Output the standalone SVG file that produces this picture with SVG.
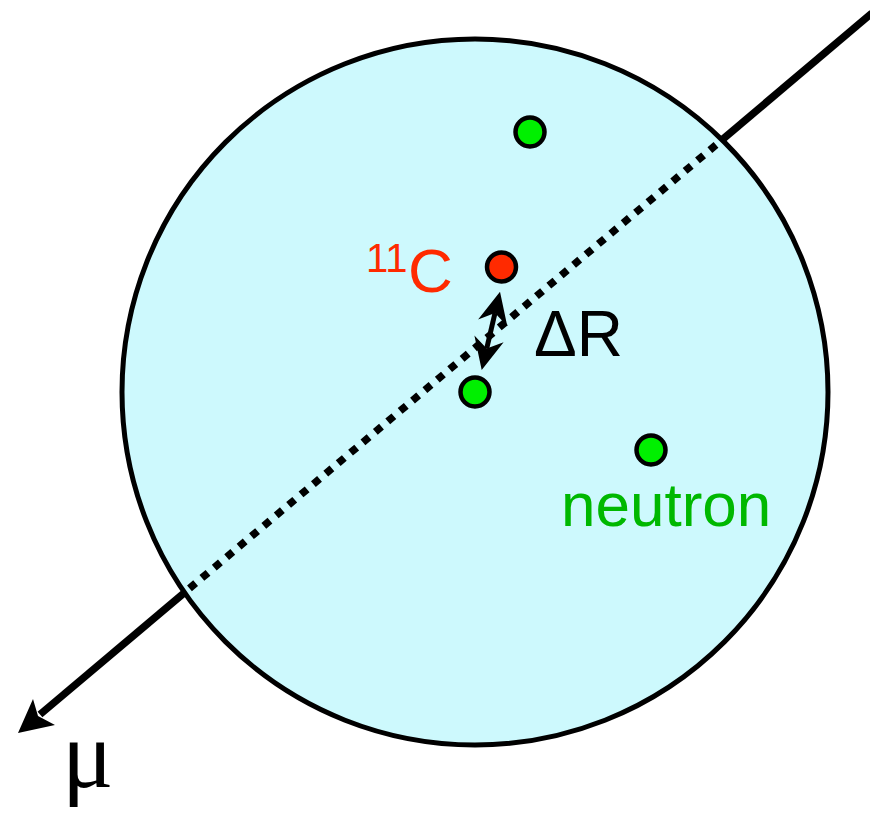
<svg xmlns="http://www.w3.org/2000/svg" width="870" height="813" viewBox="0 0 870 813">
<style>
.track{stroke:#000;stroke-width:7.5;fill:none}
.dot{stroke:#000;stroke-width:4.5}
.g{fill:#00f000}
.lbl{font-family:"Liberation Sans",Arial,sans-serif}
</style>
<rect width="870" height="813" fill="#fff"/>
<g id="detector">
<circle cx="475" cy="392" r="353" fill="#cdf9fd" stroke="#000" stroke-width="5"/>
</g>
<g id="connectors">
<line class="track" x1="872" y1="13" x2="722" y2="139.8"/>
<line class="track" x1="716" y1="144.9" x2="184.5" y2="592.6" stroke-width="8" stroke-dasharray="8 8.2"/>
<line class="track" x1="184.5" y1="592.6" x2="40" y2="714.5"/>
<polygon points="18,733 33,699 38,716 55,725" fill="#000"/>
<line x1="495" y1="313" x2="486.7" y2="348.6" stroke="#000" stroke-width="5"/>
<polygon points="500,291.7 507.3,326.3 495,313.1 478.1,319.5" fill="#000"/>
<polygon points="481.7,370 474.4,335.4 486.7,348.6 503.6,342.3" fill="#000"/>
</g>
<g id="carbon11">
<circle class="dot" cx="501.5" cy="267" r="14.5" fill="#ff2a00"/>
<text class="lbl" x="408" y="292" font-size="62" fill="#ff2a00">C</text>
<text class="lbl" x="366" y="272" font-size="40" fill="#ff2a00">11</text>
</g>
<g id="neutron-near">
<circle class="dot g" cx="475" cy="392" r="14.5"/>
</g>
<g id="neutron-top">
<circle class="dot g" cx="530" cy="132" r="14.5"/>
</g>
<g id="neutron">
<circle class="dot g" cx="651" cy="450" r="14.5"/>
<text class="lbl" x="561" y="526" font-size="62" fill="#00b800">neutron</text>
</g>
<g id="deltaR">
<text class="lbl" x="534" y="356" font-size="64" fill="#000">ΔR</text>
</g>
<g id="muon">
<text x="62" y="787" font-family="'Liberation Serif',serif" font-size="96" fill="#000">μ</text>
</g>
</svg>
